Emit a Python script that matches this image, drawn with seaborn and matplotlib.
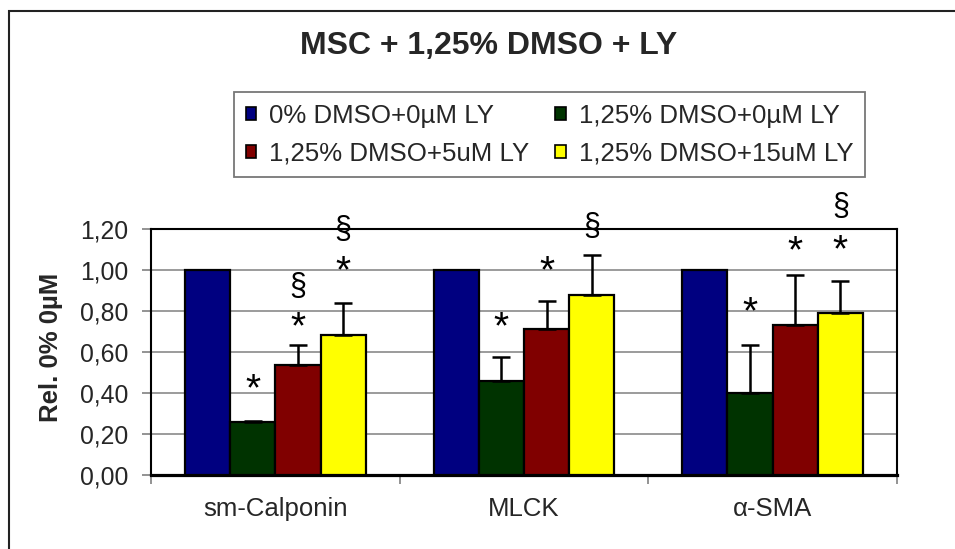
import numpy as np
import pandas as pd
import matplotlib
matplotlib.use("Agg")
import matplotlib.pyplot as plt
import matplotlib.transforms as mtransforms
from matplotlib.patches import Patch, Rectangle
import seaborn as sns

genes = ["sm-Calponin", "MLCK", "α-SMA"]
conditions = ["0% DMSO+0µM LY", "1,25% DMSO+0µM LY",
              "1,25% DMSO+5uM LY", "1,25% DMSO+15uM LY"]
colors = ["#000080", "#003300", "#800000", "#FFFF00"]

# mean values per condition (one entry per gene)
ctrl = [1.00, 1.00, 1.00]
dmso = [0.257, 0.46, 0.40]
ly5 = [0.538, 0.712, 0.732]
ly15 = [0.683, 0.88, 0.792]

# upper error (SD)
ctrl_err = [0.0, 0.0, 0.0]
dmso_err = [0.006, 0.117, 0.234]
ly5_err = [0.098, 0.138, 0.244]
ly15_err = [0.157, 0.193, 0.154]

# significance marks: (gene index, condition index, label, height)
sig_marks = [
    (0, 1, "*", 0.439), (0, 2, "*", 0.743), (0, 2, "§", 0.919),
    (0, 3, "*", 1.016), (0, 3, "§", 1.195),
    (1, 1, "*", 0.743), (1, 2, "*", 1.016), (1, 3, "§", 1.211),
    (2, 1, "*", 0.815), (2, 2, "*", 1.112), (2, 3, "*", 1.118),
    (2, 3, "§", 1.309),
]

means = [ctrl, dmso, ly5, ly15]
errs = [ctrl_err, dmso_err, ly5_err, ly15_err]
rows = []
for c, m, e in zip(conditions, means, errs):
    for g, v, s in zip(genes, m, e):
        rows.append({"gene": g, "cond": c, "value": v, "err": s})
df = pd.DataFrame(rows)

sns.set_style("white")
plt.rcParams["font.family"] = ["Liberation Sans", "DejaVu Sans"]

fig = plt.figure(figsize=(9.55, 5.49), dpi=100)
W, H = 955, 549
ax = fig.add_axes([151 / W, 1 - 475 / H, 746 / W, 246 / H])

group_w = 0.727
sns.barplot(data=df, x="gene", y="value", hue="cond", order=genes,
            hue_order=conditions, palette=colors, errorbar=None,
            width=group_w, edgecolor="black", linewidth=1.6,
            saturation=1, legend=False, ax=ax, zorder=3)

bw = group_w / len(conditions)
for j, c in enumerate(conditions):
    sub = df[df["cond"] == c].set_index("gene").loc[genes]
    xs = np.arange(len(genes)) - group_w / 2 + bw * (j + 0.5)
    has = sub["err"].values > 0
    ax.errorbar(xs[has], sub["value"].values[has],
                yerr=[np.zeros(has.sum()), sub["err"].values[has]],
                fmt="none", ecolor="black", elinewidth=1.8, capsize=6.5,
                capthick=1.8, zorder=4)

for gi, ci, lab, yv in sig_marks:
    x = gi - group_w / 2 + bw * (ci + 0.5)
    fs = 28 if lab == "*" else 22
    shift = 0.40 if lab == "*" else 0.27
    tr = mtransforms.offset_copy(ax.transData, fig=fig, x=0, y=-shift * fs,
                                 units="points")
    ax.text(x, yv, lab, transform=tr, ha="center", va="baseline",
            fontsize=fs, color="black", clip_on=False, zorder=5)

ax.set_xlim(-0.5, 2.5)
ax.set_ylim(0, 1.2)
yt = np.arange(0, 1.21, 0.2)
ax.set_yticks(yt)
ax.set_yticklabels([f"{v:.2f}".replace(".", ",") for v in yt], fontsize=17.8)
ax.yaxis.grid(True, color="#808080", linewidth=1.1, zorder=0)
ax.set_axisbelow(True)

ax.set_xticks([-0.5, 0.5, 1.5, 2.5])
ax.set_xticklabels([])
ax.set_xticks([0, 1, 2], minor=True)
ax.set_xticklabels(genes, minor=True, fontsize=18.5)
ax.tick_params(axis="x", which="major", direction="out", length=6.5,
               width=1.2, color="#808080", bottom=True)
ax.tick_params(axis="x", which="minor", length=0, pad=16)
ax.tick_params(axis="y", direction="out", length=6.5, width=1.2,
               color="#808080", left=True, pad=10)
ax.set_xlabel("")

for side in ["left", "right", "top"]:
    ax.spines[side].set_visible(True)
    ax.spines[side].set_color("black")
    ax.spines[side].set_linewidth(1.5)
ax.spines["bottom"].set_color("black")
ax.spines["bottom"].set_linewidth(2.3)

ax.set_ylabel("Rel. 0% 0µM", fontsize=18.5, fontweight="bold")
ax.yaxis.label.set_va("center")
ax.yaxis.set_label_coords((51 - 151) / 746, 0.52)

fig.suptitle("MSC + 1,25% DMSO + LY", x=489 / W, y=1 - 45.7 / H,
             ha="center", va="center", fontsize=23, fontweight="bold")

# matplotlib fills legend column by column: reorder so rows read blue/green, red/yellow
order = [0, 2, 1, 3]
handles = [Patch(facecolor=colors[i], edgecolor="black", linewidth=1.2) for i in order]
labels = [conditions[i] for i in order]
leg = fig.legend(handles, labels, ncol=2, loc="upper left",
                 bbox_to_anchor=(234 / W, 1 - 92 / H), fontsize=18.6,
                 frameon=True, fancybox=False, shadow=False,
                 handlelength=0.42, handleheight=0.42, handletextpad=0.5,
                 columnspacing=1.0, labelspacing=0.55, borderpad=0.45,
                 borderaxespad=0)
leg.get_frame().set_edgecolor("#555555")
leg.get_frame().set_linewidth(1.3)

fig.patches.append(Rectangle((9 / W, -0.1), 1.2, 1.1 - 11 / H,
                             transform=fig.transFigure, fill=False,
                             edgecolor="#222222", linewidth=1.5))

fig.savefig("out.png", dpi=100)
